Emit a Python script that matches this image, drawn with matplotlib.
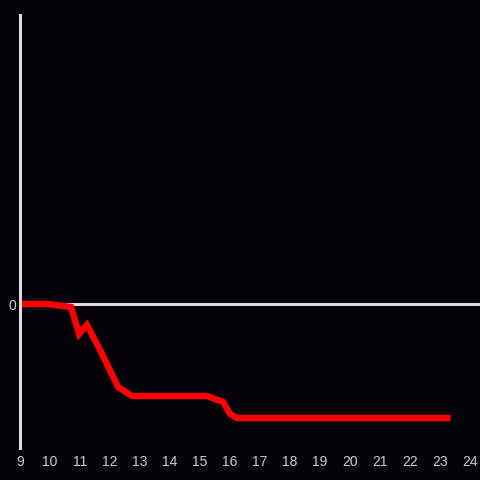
import matplotlib
matplotlib.use("Agg")
import matplotlib.pyplot as plt

plt.rcParams["font.family"] = ["Liberation Sans", "DejaVu Sans"]

# hour of day vs change (relative units)
hours = [9.0, 9.9, 10.7, 10.97, 11.23, 11.67, 12.27, 12.73, 15.23, 15.77, 16.0, 16.23, 23.35]
change = [0.0, 0.0, -0.03, -0.30, -0.21, -0.46, -0.83, -0.92, -0.92, -0.98, -1.10, -1.14, -1.14]
xticks = list(range(9, 25))

bg = "#050308"
fig = plt.figure(figsize=(4.8, 4.8), dpi=100, facecolor=bg)
ax = fig.add_axes([20 / 480, 32 / 480, 460 / 480, 433 / 480], facecolor=bg)

ax.axhline(0, color="#dddddd", lw=2.2, zorder=1)
ax.plot(hours, change, color="#ff0000", lw=4.6, solid_joinstyle="miter",
        solid_capstyle="butt", zorder=2)

ax.set_xlim(9, 24.33)
ax.set_ylim(-1.44, 2.89)
ax.set_xticks(xticks)
ax.set_xticklabels([str(t) for t in xticks])
ax.set_yticks([0])
ax.set_yticklabels(["0"])
ax.tick_params(length=0, colors="#cccccc", labelsize=10, pad=5)
ax.tick_params(axis="y", pad=3)

for s in ["top", "right", "bottom"]:
    ax.spines[s].set_visible(False)
ax.spines["left"].set_color("#dddddd")
ax.spines["left"].set_linewidth(2.2)

fig.savefig("out.png", dpi=100, facecolor=bg)
